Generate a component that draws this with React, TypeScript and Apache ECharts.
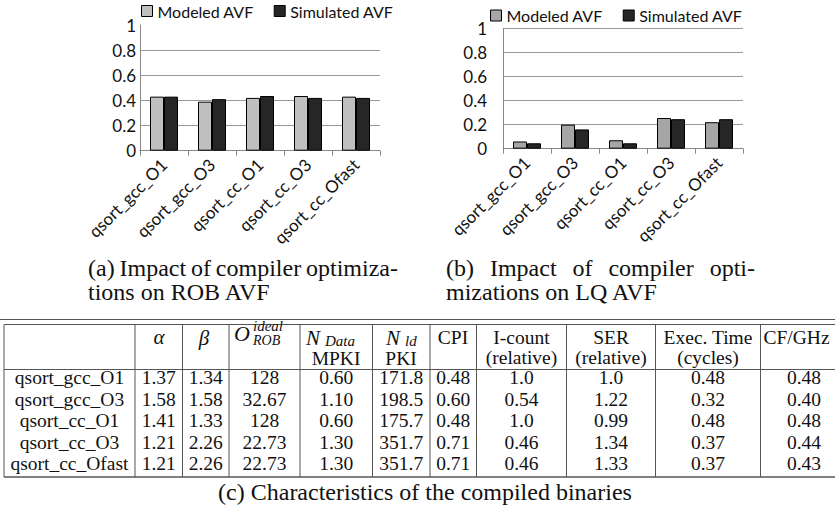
import React, { useEffect, useRef } from "react";
import * as echarts from "echarts";

// ---- chart data ----
const categories = ["qsort_gcc_O1", "qsort_gcc_O3", "qsort_cc_O1", "qsort_cc_O3", "qsort_cc_Ofast"];
const robModeled = [0.43, 0.39, 0.42, 0.435, 0.43];
const robSimulated = [0.43, 0.41, 0.435, 0.42, 0.42];
const lqModeled = [0.06, 0.2, 0.07, 0.255, 0.22];
const lqSimulated = [0.045, 0.16, 0.045, 0.245, 0.245];
const seriesNames = ["Modeled AVF", "Simulated AVF"];

// ---- table data ----
const tableNames = ["qsort_gcc_O1", "qsort_gcc_O3", "qsort_cc_O1", "qsort_cc_O3", "qsort_cc_Ofast"];
const alphaVals = ["1.37", "1.58", "1.41", "1.21", "1.21"];
const betaVals = ["1.34", "1.58", "1.33", "2.26", "2.26"];
const oIdealVals = ["128", "32.67", "128", "22.73", "22.73"];
const nDataVals = ["0.60", "1.10", "0.60", "1.30", "1.30"];
const nLdVals = ["171.8", "198.5", "175.7", "351.7", "351.7"];
const cpiVals = ["0.48", "0.60", "0.48", "0.71", "0.71"];
const iCountVals = ["1.0", "0.54", "1.0", "0.46", "0.46"];
const serVals = ["1.0", "1.22", "0.99", "1.34", "1.33"];
const execVals = ["0.48", "0.32", "0.48", "0.37", "0.37"];
const cfVals = ["0.48", "0.40", "0.48", "0.44", "0.43"];

const captionA = ["(a) Impact of compiler optimiza-", "tions on ROB AVF"];
const captionB = ["(b) Impact of compiler opti-", "mizations on LQ AVF"];
const captionC = "(c) Characteristics of the compiled binaries";

const SERIF = '"Liberation Serif", "Times New Roman", serif';
const SANS = 'Lato, "Open Sans", sans-serif';

function measure(text: string, size: number, family: string, style = "normal") {
  const c = document.createElement("canvas").getContext("2d");
  if (!c) return text.length * size * 0.45;
  c.font = `${style} ${size}px ${family}`;
  return c.measureText(text).width;
}

export default function App() {
  const ref = useRef<HTMLDivElement>(null);

  useEffect(() => {
    document.body.style.margin = "0";
    if (!ref.current) return;
    const chart = echarts.init(ref.current, null, { renderer: "svg" });

    const colX = [4, 135, 182.5, 229, 300, 372.5, 430, 476.5, 566.5, 655.5, 760.5];
    const rowY = [377.5, 399, 420.5, 442, 463.5];
    const lineColor = "#555";
    const g: any[] = [];
    const hline = (y: number, x1: number, x2: number, w = 1) =>
      g.push({ type: "line", shape: { x1, y1: y, x2, y2: y }, style: { stroke: lineColor, lineWidth: w }, silent: true });
    const vline = (x: number, y1: number, y2: number) =>
      g.push({ type: "line", shape: { x1: x, y1, x2: x, y2 }, style: { stroke: lineColor, lineWidth: 1 }, silent: true });
    const txt = (text: string, x: number, y: number, opts: any = {}) =>
      g.push({
        type: "text",
        x,
        y,
        silent: true,
        style: {
          text,
          fontFamily: SERIF,
          fontSize: 19.5,
          fill: "#111",
          align: "center",
          verticalAlign: "middle",
          ...opts,
        },
      });

    hline(319.5, 0, 835);
    hline(324.5, 4, 835);
    hline(369.5, 4, 835);
    hline(477, 4, 835, 1.5);
    colX.forEach((x) => vline(x, 324.5, 477));

    // header
    const it = { fontStyle: "italic" };
    txt("α", 159, 336.5, { ...it, fontSize: 21 });
    txt("β", 204, 337.5, { ...it, fontSize: 21 });
    txt("O", 234, 333, { ...it, fontSize: 22, align: "left" });
    txt("ideal", 253, 326, { ...it, fontSize: 15, align: "left" });
    txt("ROB", 253, 340.5, { ...it, fontSize: 14, align: "left" });
    txt("N", 306, 337.5, { ...it, fontSize: 21, align: "left" });
    txt("Data", 325, 341, { ...it, fontSize: 15, align: "left" });
    txt("MPKI", 336, 358);
    txt("N", 386, 337.5, { ...it, fontSize: 21, align: "left" });
    txt("ld", 405, 341, { ...it, fontSize: 15, align: "left" });
    txt("PKI", 401, 358);
    txt("CPI", 453, 337.5);
    txt("I-count", 521.5, 337.5);
    txt("(relative)", 521.5, 357.5);
    txt("SER", 611, 337.5);
    txt("(relative)", 611, 357.5);
    txt("Exec. Time", 708, 337.5);
    txt("(cycles)", 708, 357.5);
    txt("CF/GHz", 763.5, 337.5, { align: "left" });

    const cols = [tableNames, alphaVals, betaVals, oIdealVals, nDataVals, nLdVals, cpiVals, iCountVals, serVals, execVals, cfVals];
    cols.forEach((vals, ci) => {
      const cx = ci < cols.length - 1 ? (colX[ci] + colX[ci + 1]) / 2 : 804;
      vals.forEach((v, ri) => txt(v, cx, rowY[ri]));
    });

    // captions (first lines justified like the LaTeX source)
    const capSize = 24;
    const justify = (line: string, x0: number, x1: number, y: number) => {
      const words = line.split(" ");
      const widths = words.map((w) => measure(w, capSize, SERIF));
      const total = widths.reduce((a, b) => a + b, 0);
      const gap = (x1 - x0 - total) / (words.length - 1);
      let x = x0;
      words.forEach((w, i) => {
        txt(w, x, y, { fontSize: capSize, align: "left" });
        x += widths[i] + gap;
      });
    };
    justify(captionA[0], 88, 398, 268);
    txt(captionA[1], 88, 292, { fontSize: capSize, align: "left" });
    justify(captionB[0], 446, 755, 268);
    txt(captionB[1], 446, 292, { fontSize: capSize, align: "left" });
    txt(captionC, 425, 492, { fontSize: capSize });

    const modeledA = "#c0c0c0";
    const modeledB = "#a6a6a6";
    const simColor = "#262626";

    const legendBase = {
      padding: 0,
      itemWidth: 11,
      itemHeight: 11,
      itemGap: 20,
      icon: "rect",
      textStyle: { fontFamily: SANS, fontSize: 16, color: "#111" },
    };

    const yAxisBase = (gi: number, hideTop: boolean, margin: number) => ({
      gridIndex: gi,
      type: "value",
      min: 0,
      max: 1,
      interval: 0.2,
      axisLine: { show: true, lineStyle: { color: "#888", width: 1 } },
      axisTick: { show: false },
      axisLabel: { fontFamily: SANS, fontSize: 17, color: "#111", margin },
      splitLine: {
        show: true,
        lineStyle: {
          color: hideTop ? ["#999", "#999", "#999", "#999", "#999", "transparent"] : "#999",
          width: 1,
        },
      },
    });
    const xAxisBase = (gi: number) => ({
      gridIndex: gi,
      type: "category",
      data: categories,
      axisLine: { show: true, lineStyle: { color: "#888", width: 1 } },
      axisTick: { show: true, length: 5, lineStyle: { color: "#888" } },
      axisLabel: { interval: 0, rotate: 45, fontFamily: SANS, fontSize: 17, color: "#111", margin: 11 },
    });
    const barBase = (name: string, data: number[], gi: number, color: string) => ({
      name,
      type: "bar",
      xAxisIndex: gi,
      yAxisIndex: gi,
      data,
      barWidth: 14,
      barGap: "0%",
      itemStyle: { color, borderColor: "#000", borderWidth: 1 },
    });

    chart.setOption({
      animation: false,
      backgroundColor: "#fff",
      grid: [
        { left: 140, top: 25, width: 240, height: 125.7 },
        { left: 503, top: 28.3, width: 240, height: 120.4 },
      ],
      legend: [
        {
          ...legendBase,
          left: 141,
          top: 3,
          data: [
            { name: seriesNames[0], itemStyle: { color: modeledA, borderColor: "#000", borderWidth: 1 } },
            { name: seriesNames[1], itemStyle: { color: simColor, borderColor: "#000", borderWidth: 1 } },
          ],
        },
        {
          ...legendBase,
          left: 490,
          top: 7.5,
          data: [
            { name: seriesNames[0], itemStyle: { color: modeledB, borderColor: "#000", borderWidth: 1 } },
            { name: seriesNames[1], itemStyle: { color: simColor, borderColor: "#000", borderWidth: 1 } },
          ],
        },
      ],
      xAxis: [xAxisBase(0), xAxisBase(1)],
      yAxis: [yAxisBase(0, true, 4), yAxisBase(1, false, 16)],
      series: [
        barBase(seriesNames[0], robModeled, 0, modeledA),
        barBase(seriesNames[1], robSimulated, 0, simColor),
        barBase(seriesNames[0], lqModeled, 1, modeledB),
        barBase(seriesNames[1], lqSimulated, 1, simColor),
      ],
      graphic: g,
    });

    return () => chart.dispose();
  }, []);

  return <div ref={ref} style={{ width: 835, height: 506 }} />;
}
